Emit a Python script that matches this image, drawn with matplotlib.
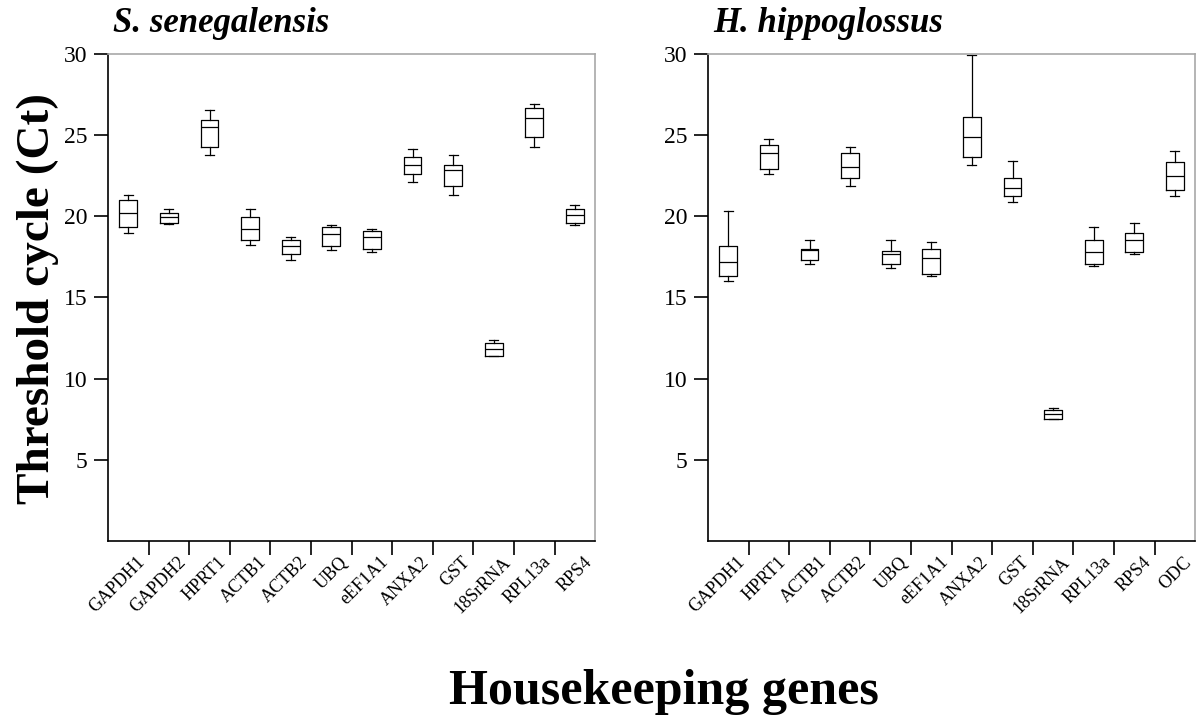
import matplotlib
matplotlib.use("Agg")
import matplotlib.pyplot as plt

plt.rcParams["font.family"] = ["Liberation Serif", "DejaVu Serif"]

# Genes de chaque espece
ss_genes = ["GAPDH1", "GAPDH2", "HPRT1", "ACTB1", "ACTB2", "UBQ", "eEF1A1",
            "ANXA2", "GST", "18SrRNA", "RPL13a", "RPS4"]
hh_genes = ["GAPDH1", "HPRT1", "ACTB1", "ACTB2", "UBQ", "eEF1A1", "ANXA2",
            "GST", "18SrRNA", "RPL13a", "RPS4", "ODC"]

# S. senegalensis : moustaches, quartiles, mediane (Ct)
ss_whislo = [19.0, 19.55, 23.77, 18.26, 17.30, 17.91, 17.79, 22.11, 21.29, 11.42, 24.26, 19.47]
ss_q1 = [19.35, 19.59, 24.26, 18.51, 17.69, 18.14, 18.01, 22.60, 21.89, 11.42, 24.88, 19.61]
ss_med = [20.19, 19.96, 25.49, 19.22, 18.16, 18.88, 18.73, 23.18, 22.83, 11.83, 26.07, 20.09]
ss_q3 = [21.03, 20.19, 25.94, 19.96, 18.51, 19.35, 19.10, 23.67, 23.18, 12.19, 26.66, 20.43]
ss_whishi = [21.29, 20.43, 26.54, 20.43, 18.73, 19.47, 19.22, 24.16, 23.77, 12.40, 26.91, 20.68]

# H. hippoglossus
hh_whislo = [15.99, 22.58, 17.07, 21.89, 16.83, 16.33, 23.18, 20.88, 7.49, 16.95, 17.66, 21.27]
hh_q1 = [16.33, 22.93, 17.30, 22.36, 17.07, 16.46, 23.65, 21.27, 7.49, 17.07, 17.79, 21.62]
hh_med = [17.19, 23.90, 17.95, 23.05, 17.66, 17.42, 24.88, 21.74, 7.81, 17.79, 18.51, 22.48]
hh_q3 = [18.16, 24.39, 18.01, 23.90, 17.89, 18.01, 26.09, 22.36, 8.08, 18.51, 19.0, 23.34]
hh_whishi = [20.31, 24.75, 18.51, 24.26, 18.51, 18.40, 29.94, 23.42, 8.22, 19.35, 19.59, 24.04]

y_ticks = [5, 10, 15, 20, 25, 30]


def draw_panel(ax, genes, whislo, q1, med, q3, whishi):
    stats = []
    for i in range(len(genes)):
        stats.append({"label": genes[i], "whislo": whislo[i], "q1": q1[i],
                      "med": med[i], "q3": q3[i], "whishi": whishi[i], "fliers": []})
    pos = list(range(1, len(genes) + 1))
    line = dict(color="black", linewidth=0.9)
    ax.bxp(stats, positions=pos, widths=0.44, showfliers=False,
           boxprops=line, whiskerprops=line, capprops=line,
           medianprops=dict(color="black", linewidth=0.9))

    ax.set_xlim(0.5, len(genes) + 0.5)
    ax.set_ylim(0, 30)
    ax.set_yticks(y_ticks)
    ax.tick_params(axis="y", labelsize=17, length=10, width=1.2, direction="out", pad=5)

    # ticks entre les categories, etiquettes sous les boites
    ax.set_xticks([p + 0.5 for p in pos[:-1]])
    ax.set_xticklabels([])
    ax.tick_params(axis="x", which="major", length=10, width=1.2, direction="out")
    ax.set_xticks([p + 0.2 for p in pos], genes, minor=True)
    ax.tick_params(axis="x", which="minor", length=0, pad=9, labelsize=13)
    for lbl in ax.get_xticklabels(minor=True):
        lbl.set_rotation(45)
        lbl.set_ha("right")
        lbl.set_rotation_mode("anchor")

    for side in ["left", "bottom"]:
        ax.spines[side].set_color("black")
        ax.spines[side].set_linewidth(1.2)
    for side in ["top", "right"]:
        ax.spines[side].set_color("#a8a8a8")
        ax.spines[side].set_linewidth(1.2)


fig = plt.figure(figsize=(12, 7.24), dpi=100)
ax1 = fig.add_axes([0.09, 0.2528, 0.406, 0.6727])
ax2 = fig.add_axes([0.59, 0.2528, 0.406, 0.6727])

draw_panel(ax1, ss_genes, ss_whislo, ss_q1, ss_med, ss_q3, ss_whishi)
draw_panel(ax2, hh_genes, hh_whislo, hh_q1, hh_med, hh_q3, hh_whishi)

fig.text(113 / 1200, 1 - 7 / 724, "S. senegalensis", fontsize=25,
         fontweight="bold", fontstyle="italic", ha="left", va="top")
fig.text(713 / 1200, 1 - 7 / 724, "H. hippoglossus", fontsize=25,
         fontweight="bold", fontstyle="italic", ha="left", va="top")

fig.text(38 / 1200, 1 - 299 / 724, "Threshold cycle (Ct)", fontsize=34,
         fontweight="bold", rotation=90, ha="center", va="center")
fig.text(664 / 1200, 1 - 692 / 724, "Housekeeping genes", fontsize=36,
         fontweight="bold", ha="center", va="center")

fig.savefig("out.png", dpi=100)
plt.close(fig)
